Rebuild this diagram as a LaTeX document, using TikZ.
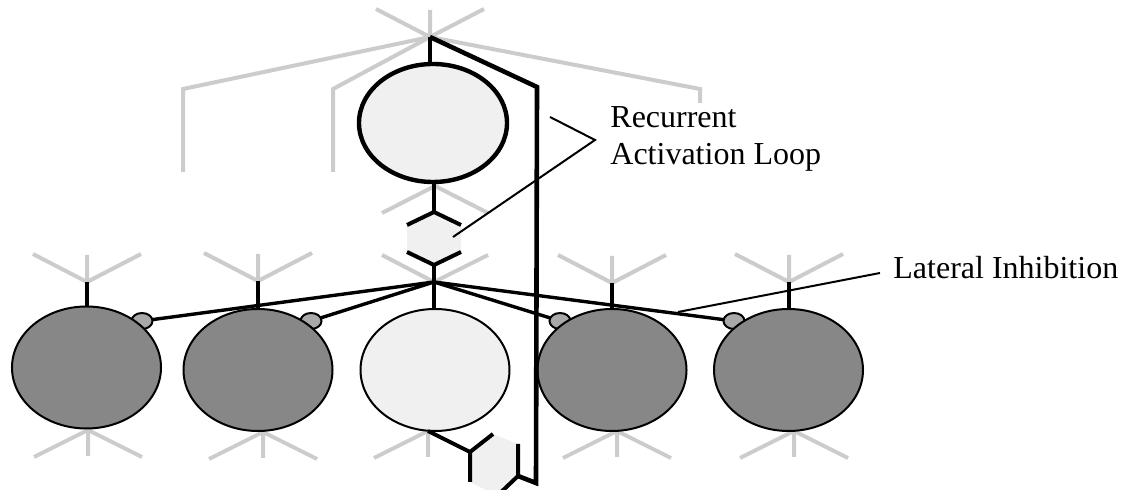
\documentclass[tikz,border=0pt]{standalone}
\usepackage{fontspec}
\setmainfont{Liberation Serif}
\usetikzlibrary{shapes.geometric}
\definecolor{glin}{HTML}{CCCCCC}
\definecolor{dk}{HTML}{878787}
\definecolor{lt}{HTML}{F0F0F0}
\definecolor{syn}{HTML}{A9A9A9}
\tikzset{
  garm/.style={draw=glin, line width=2pt},
  blk/.style={draw=black, line width=2pt},
  latline/.style={draw=black, line width=1.7pt},
  loopline/.style={draw=black, line width=2.3pt, line join=miter},
  callout/.style={draw=black, line width=1pt},
  cell/.style={ellipse, draw=black, line width=1pt, fill=dk, minimum width=74.5pt, minimum height=61pt, inner sep=0pt, outer sep=0pt},
  topcell/.style={ellipse, draw=black, line width=2.2pt, fill=lt, minimum width=74pt, minimum height=59pt, inner sep=0pt, outer sep=0pt},
  synapse/.style={ellipse, draw=black, line width=1pt, fill=syn, minimum width=10.5pt, minimum height=8pt, inner sep=0pt, outer sep=0pt},
  lbl/.style={font=\fontsize{16pt}{18.5pt}\selectfont, anchor=base west, inner sep=0pt},
  upstar/.pic={\draw[garm] (0,0) -- (-54,-28) (0,0) -- (54,-28) (0,0) -- (0,-27);},
  downstar/.pic={\draw[garm] (0,0) -- (-54,27) (0,0) -- (54,27) (0,0) -- (0,26);}
}
\begin{document}
\begin{tikzpicture}[x=0.5pt,y=-0.5pt]
\useasboundingbox (0,0) rectangle (1124,490);
% ---------- key coordinates ----------
\coordinate (ts) at (430,37);
\coordinate (hub) at (434,282);
\coordinate (us1) at (87,282);
\coordinate (us2) at (258,281);
\coordinate (us4) at (612,283);
\coordinate (us5) at (789,282);
\coordinate (ds1) at (88,430);
\coordinate (ds2) at (263,432);
\coordinate (ds3) at (428,431);
\coordinate (ds4) at (617,431);
\coordinate (ds5) at (794,431);
\coordinate (tbs) at (435,186);
% long grey branches from top
\coordinate (gl1) at (183,89);  \coordinate (gl1e) at (183,172);
\coordinate (gl2) at (333,89);  \coordinate (gl2e) at (333,172);
\coordinate (gl3) at (700,89);  \coordinate (gl3e) at (700,103);
% ---------- grey stars ----------
\pic at (ts) {upstar};
\draw[garm] (ts) -- (gl1) -- (gl1e);
\draw[garm] (ts) -- (gl2) -- (gl2e);
\draw[garm] (ts) -- (gl3) -- (gl3e);
\pic at (us1) {upstar};
\pic at (us2) {upstar};
\pic at (us4) {upstar};
\pic at (us5) {upstar};
\pic at (ds1) {downstar};
\pic at (ds2) {downstar};
\pic at (ds4) {downstar};
\pic at (ds5) {downstar};
\draw[garm] (ds3) -- ++(-54,27) (ds3) -- ++(0,26);
\draw[garm] (tbs) -- ++(-53,27) (tbs) -- ++(53,27);
\draw[garm] (hub) -- ++(-52,-27) (hub) -- ++(54,-27);
% ---------- synapses ----------
\node[synapse] (s1) at (142,321) {};
\node[synapse] (s2) at (311,321) {};
\node[synapse] (s4) at (560,321) {};
\node[synapse] (s5) at (734,321) {};
% ---------- cells ----------
\node[topcell] (et) at (433,123) {};
\node[cell] (e1) at (86.5,367.5) {};
\node[cell] (e2) at (258,370) {};
\node[cell, fill=lt] (e3) at (435,370) {};
\node[cell] (e4) at (612,370) {};
\node[cell] (e5) at (788.5,370) {};
% ---------- middle hexagon ----------
\coordinate (ht) at (434,212);
\coordinate (hur) at (461,225);
\coordinate (hlr) at (461,252);
\coordinate (hb) at (434,265);
\coordinate (hll) at (407,252);
\coordinate (hul) at (407,225);
\fill[lt] (ht) -- (hur) -- (hlr) -- (hb) -- (hll) -- (hul) -- cycle;
\draw[blk] (ht |- et.south) -- (ht);
\draw[blk] (hul) -- (ht) -- (hur);
\draw[blk] (hll) -- (hb) -- (hlr);
\draw[blk] (hb) -- (hub);
% ---------- bottom hexagon ----------
\coordinate (b1) at (470,452);
\coordinate (b2) at (493,434);
\coordinate (b3) at (518,444);
\coordinate (b4) at (518,476);
\coordinate (b5) at (497,496);
\coordinate (b6) at (470,482);
\fill[lt] (b1) -- (b2) -- (b3) -- (b4) -- (b5) -- (b6) -- cycle;
\draw[blk] (ds3) -- (b1);
\draw[blk] (b2) -- (b1) -- (b6);
\draw[blk] (b3) -- (b4) -- (b5);
% ---------- stubs to cells ----------
\draw[blk] (ts) -- (ts |- et.north);
\draw[blk] (us1) -- (us1 |- e1.north);
\draw[blk] (us2) -- (us2 |- e2.north);
\draw[blk] (us4) -- (us4 |- e4.north);
\draw[blk] (us5) -- (us5 |- e5.north);
\draw[blk] (hub) -- (hub |- e3.north);
% ---------- lateral inhibition ----------
\draw[latline] (hub) -- (s1);
\draw[latline] (hub) -- (s2);
\draw[latline] (hub) -- (s4);
\draw[latline] (hub) -- (s5);
% ---------- recurrent loop ----------
\coordinate (lc1) at (537,87);
\coordinate (lc2) at (536,483);
\draw[loopline] (ts) -- (lc1) -- (lc2) -- (b4);
% ---------- labels ----------
\node[lbl] (trec) at (610,128) {Recurrent};
\node[lbl] (tact) at (610,165) {Activation Loop};
\node[lbl] (tlat) at (893,279) {Lateral Inhibition};
\coordinate (rc1) at (550,117);
\coordinate (rc2) at (595,140);
\coordinate (rc3) at (453,237);
\draw[callout] (rc1) -- (rc2) -- (rc3);
\coordinate (la1) at (678,312);
\coordinate (la2) at (880,273);
\draw[callout] (la1) -- (la2);
\end{tikzpicture}
\end{document}
